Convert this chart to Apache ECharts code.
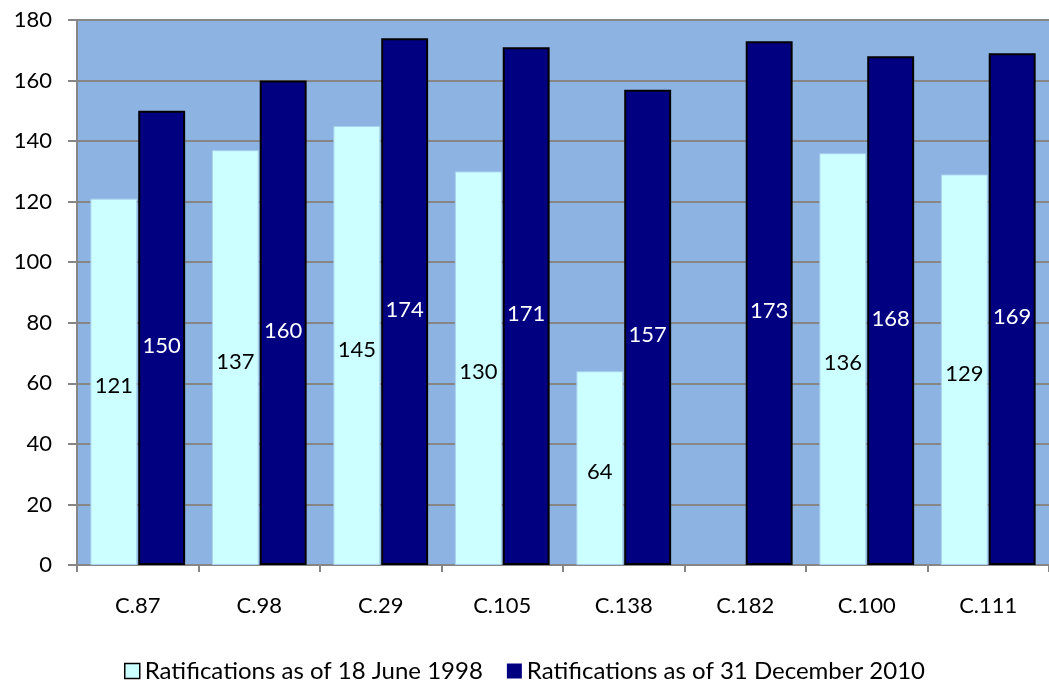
<!DOCTYPE html>
<html>
<head>
<meta charset="utf-8">
<script src="https://cdn.jsdelivr.net/npm/echarts@6/dist/echarts.min.js"></script>
<style>
  html, body { margin: 0; padding: 0; background: #ffffff; }
  #chart { width: 1049px; height: 684px; }
</style>
</head>
<body>
<div id="chart"></div>
<script>
// Conventions and their ratification counts
const conventions = ['C.87', 'C.98', 'C.29', 'C.105', 'C.138', 'C.182', 'C.100', 'C.111'];
const ratified1998 = [121, 137, 145, 130, 64, 0, 136, 129];
const ratified2010 = [150, 160, 174, 171, 157, 173, 168, 169];
const seriesNames = ['Ratifications as of 18 June 1998', 'Ratifications as of 31 December 2010'];

const FONT = 'Lato, "Open Sans", sans-serif';

const chart = echarts.init(document.getElementById('chart'), null, { renderer: 'canvas' });

// Zero-height bars get no outline so nothing shows on the axis
const lightData = ratified1998.map(v => (v > 0 ? v : { value: v, itemStyle: { borderWidth: 0 } }));

chart.setOption({
  animation: false,
  textStyle: { fontFamily: FONT },
  grid: {
    left: 77,
    top: 20,
    width: 984,
    height: 545,
    show: true,
    backgroundColor: '#8DB3E2',
    borderWidth: 0
  },
  legend: {
    left: 'center',
    top: 659,
    padding: 0,
    itemWidth: 15,
    itemHeight: 15,
    itemGap: 24,
    textStyle: { fontSize: 24, lineHeight: 24, color: '#000', fontFamily: FONT },
    data: [
      { name: seriesNames[0], icon: 'rect', itemStyle: { color: '#CCFFFF', borderColor: '#000', borderWidth: 1.5 } },
      { name: seriesNames[1], icon: 'rect', itemStyle: { color: '#000080', borderWidth: 0 } }
    ]
  },
  xAxis: {
    type: 'category',
    data: conventions,
    axisLine: { lineStyle: { color: '#868686', width: 2 } },
    axisTick: { show: true, length: 7, lineStyle: { color: '#868686', width: 2 } },
    axisLabel: { fontSize: 22, color: '#000', margin: 30, fontFamily: FONT }
  },
  yAxis: {
    type: 'value',
    min: 0,
    max: 180,
    interval: 20,
    axisLine: { show: true, lineStyle: { color: '#868686', width: 2 } },
    axisTick: { show: true, length: 9, lineStyle: { color: '#868686', width: 2 } },
    splitLine: { show: true, lineStyle: { color: '#868686', width: 2 } },
    axisLabel: { fontSize: 22, color: '#000', margin: 25, fontFamily: FONT }
  },
  series: [
    {
      name: seriesNames[0],
      type: 'bar',
      data: lightData,
      barGap: '2%',
      barCategoryGap: '22%',
      itemStyle: { color: '#CCFFFF', borderColor: '#A8D0EE', borderWidth: 1 },
      label: {
        show: true,
        position: 'inside',
        offset: [0, 4],
        color: '#000',
        fontSize: 22,
        fontFamily: FONT,
        formatter: p => (p.value > 0 ? p.value : '')
      }
    },
    {
      name: seriesNames[1],
      type: 'bar',
      data: ratified2010,
      itemStyle: { color: '#000080', borderColor: '#000', borderWidth: 2 },
      label: {
        show: true,
        position: 'inside',
        offset: [0, 8],
        color: '#fff',
        fontSize: 22,
        fontFamily: FONT
      }
    }
  ]
});
</script>
</body>
</html>
